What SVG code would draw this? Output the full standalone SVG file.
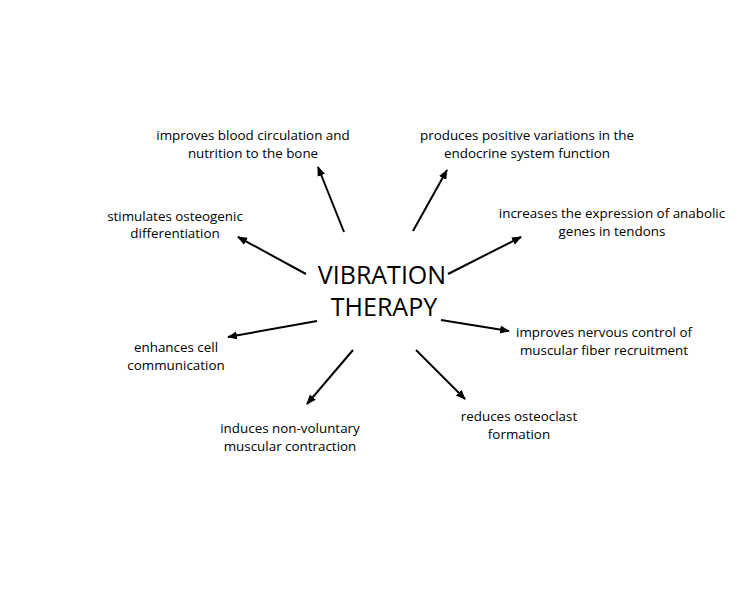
<svg xmlns="http://www.w3.org/2000/svg" width="750" height="600" viewBox="0 0 750 600">
<style>
.lbl{font-family:"Open Sans","Liberation Sans",sans-serif;font-size:13.4px;fill:#000;text-anchor:middle}
.title{font-family:"Open Sans","Liberation Sans",sans-serif;font-size:25px;fill:#000;text-anchor:middle}
.arr{stroke:#000;stroke-width:2;fill:none;marker-end:url(#ah)}
</style>
<defs>
<marker id="ah" markerUnits="userSpaceOnUse" markerWidth="10" markerHeight="10" viewBox="0 0 10 10" refX="9" refY="5" orient="auto">
<path d="M0,1 L10,5 L0,9 Z" fill="#000"/>
</marker>
</defs>
<rect width="750" height="600" fill="#fff"/>
<g id="center">
<text class="title" x="382" y="284">VIBRATION</text>
<text class="title" x="384" y="316">THERAPY</text>
</g>
<g id="connectors">
<line class="arr" x1="344" y1="232" x2="318" y2="167"/>
<line class="arr" x1="306" y1="274" x2="238" y2="237"/>
<line class="arr" x1="413" y1="231" x2="447" y2="170"/>
<line class="arr" x1="448" y1="274" x2="521" y2="237"/>
<line class="arr" x1="317" y1="321" x2="228" y2="337"/>
<line class="arr" x1="353" y1="350" x2="307" y2="404"/>
<line class="arr" x1="441" y1="320" x2="509" y2="331"/>
<line class="arr" x1="416" y1="350" x2="465" y2="399"/>
</g>
<g id="n1"><text class="lbl" x="253" y="140">improves blood circulation and</text><text class="lbl" x="253" y="158">nutrition to the bone</text></g>
<g id="n2"><text class="lbl" x="175" y="221">stimulates osteogenic</text><text class="lbl" x="175" y="238">differentiation</text></g>
<g id="n3"><text class="lbl" x="527" y="140">produces positive variations in the</text><text class="lbl" x="527" y="158">endocrine system function</text></g>
<g id="n4"><text class="lbl" x="612" y="218">increases the expression of anabolic</text><text class="lbl" x="612" y="236">genes in tendons</text></g>
<g id="n5"><text class="lbl" x="176" y="352">enhances cell</text><text class="lbl" x="176" y="370">communication</text></g>
<g id="n6"><text class="lbl" x="290" y="433">induces non-voluntary</text><text class="lbl" x="290" y="451">muscular contraction</text></g>
<g id="n7"><text class="lbl" x="604" y="337">improves nervous control of</text><text class="lbl" x="604" y="355">muscular fiber recruitment</text></g>
<g id="n8"><text class="lbl" x="519" y="421">reduces osteoclast</text><text class="lbl" x="519" y="439">formation</text></g>
</svg>
